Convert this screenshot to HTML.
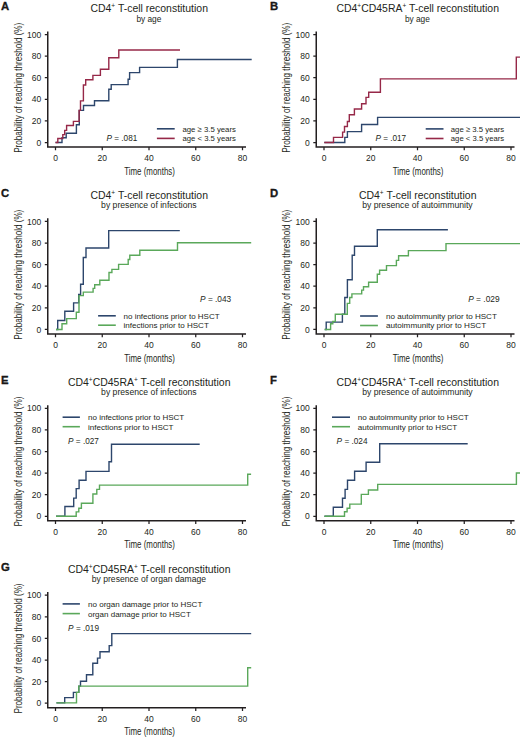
<!DOCTYPE html>
<html><head><meta charset="utf-8"><title>T-cell reconstitution</title>
<style>
html,body{margin:0;padding:0;background:#fff;}
body{width:520px;height:738px;overflow:hidden;}
svg{display:block;font-family:"Liberation Sans", sans-serif;}
svg text{fill:#231f20;}
</style></head><body>
<svg width="520" height="738" viewBox="0 0 520 738">
<rect width="520" height="738" fill="#fff"/>
<text x="1" y="9.8" font-size="11.3" font-weight="bold" fill="#000" stroke="#000" stroke-width="0.3">A</text>
<text x="149.2" y="11.9" font-size="10.4" text-anchor="middle" textLength="117.5" lengthAdjust="spacingAndGlyphs">CD4<tspan font-size="6.5" dy="-3.6">+</tspan><tspan dy="3.6"> T-cell reconstitution</tspan></text>
<text x="148.9" y="21.5" font-size="8.5" text-anchor="middle" textLength="25" lengthAdjust="spacingAndGlyphs">by age</text>
<text transform="translate(21.6 87.8) rotate(-90)" x="0" y="0" font-size="10.5" text-anchor="middle" textLength="130" lengthAdjust="spacingAndGlyphs">Probability of reaching threshold (%)</text>
<path d="M47.75 31.4V147H246" fill="none" stroke="#231f20" stroke-width="1.5"/>
<path d="M44.8 142.5H47.75M44.8 120.9H47.75M44.8 99.3H47.75M44.8 77.7H47.75M44.8 56.1H47.75M44.8 34.5H47.75M55.5 147V150.3M102.25 147V150.3M149 147V150.3M195.75 147V150.3M242.5 147V150.3" fill="none" stroke="#231f20" stroke-width="1.25"/>
<text x="41.3" y="145.6" font-size="8.5" text-anchor="end">0</text>
<text x="41.3" y="124" font-size="8.5" text-anchor="end">20</text>
<text x="41.3" y="102.4" font-size="8.5" text-anchor="end">40</text>
<text x="41.3" y="80.8" font-size="8.5" text-anchor="end">60</text>
<text x="41.3" y="59.2" font-size="8.5" text-anchor="end">80</text>
<text x="41.3" y="37.6" font-size="8.5" text-anchor="end">100</text>
<text x="55.5" y="160.8" font-size="8.5" text-anchor="middle">0</text>
<text x="102.25" y="160.8" font-size="8.5" text-anchor="middle">20</text>
<text x="149" y="160.8" font-size="8.5" text-anchor="middle">40</text>
<text x="195.75" y="160.8" font-size="8.5" text-anchor="middle">60</text>
<text x="242.5" y="160.8" font-size="8.5" text-anchor="middle">80</text>
<text x="149.55" y="174.6" font-size="10.8" text-anchor="middle" textLength="50.7" lengthAdjust="spacingAndGlyphs">Time (months)</text>
<text x="270.1" y="9.8" font-size="11.3" font-weight="bold" fill="#000" stroke="#000" stroke-width="0.3">B</text>
<text x="417.7" y="11.9" font-size="10.4" text-anchor="middle" textLength="162.5" lengthAdjust="spacingAndGlyphs">CD4<tspan font-size="6.5" dy="-3.6">+</tspan><tspan dy="3.6">CD45RA</tspan><tspan font-size="6.5" dy="-3.6">+</tspan><tspan dy="3.6"> T-cell reconstitution</tspan></text>
<text x="417.4" y="21.5" font-size="8.5" text-anchor="middle" textLength="25" lengthAdjust="spacingAndGlyphs">by age</text>
<text transform="translate(290.1 87.8) rotate(-90)" x="0" y="0" font-size="10.5" text-anchor="middle" textLength="130" lengthAdjust="spacingAndGlyphs">Probability of reaching threshold (%)</text>
<path d="M316.25 31.4V147H514.5" fill="none" stroke="#231f20" stroke-width="1.5"/>
<path d="M313.3 142.5H316.25M313.3 120.9H316.25M313.3 99.3H316.25M313.3 77.7H316.25M313.3 56.1H316.25M313.3 34.5H316.25M324 147V150.3M370.75 147V150.3M417.5 147V150.3M464.25 147V150.3M511 147V150.3" fill="none" stroke="#231f20" stroke-width="1.25"/>
<text x="309.8" y="145.6" font-size="8.5" text-anchor="end">0</text>
<text x="309.8" y="124" font-size="8.5" text-anchor="end">20</text>
<text x="309.8" y="102.4" font-size="8.5" text-anchor="end">40</text>
<text x="309.8" y="80.8" font-size="8.5" text-anchor="end">60</text>
<text x="309.8" y="59.2" font-size="8.5" text-anchor="end">80</text>
<text x="309.8" y="37.6" font-size="8.5" text-anchor="end">100</text>
<text x="324" y="160.8" font-size="8.5" text-anchor="middle">0</text>
<text x="370.75" y="160.8" font-size="8.5" text-anchor="middle">20</text>
<text x="417.5" y="160.8" font-size="8.5" text-anchor="middle">40</text>
<text x="464.25" y="160.8" font-size="8.5" text-anchor="middle">60</text>
<text x="511" y="160.8" font-size="8.5" text-anchor="middle">80</text>
<text x="418.05" y="174.6" font-size="10.8" text-anchor="middle" textLength="50.7" lengthAdjust="spacingAndGlyphs">Time (months)</text>
<text x="1" y="196.7" font-size="11.3" font-weight="bold" fill="#000" stroke="#000" stroke-width="0.3">C</text>
<text x="149.2" y="198.8" font-size="10.4" text-anchor="middle" textLength="117.5" lengthAdjust="spacingAndGlyphs">CD4<tspan font-size="6.5" dy="-3.6">+</tspan><tspan dy="3.6"> T-cell reconstitution</tspan></text>
<text x="148.9" y="208.4" font-size="8.5" text-anchor="middle" textLength="95.6" lengthAdjust="spacingAndGlyphs">by presence of infections</text>
<text transform="translate(21.6 274.7) rotate(-90)" x="0" y="0" font-size="10.5" text-anchor="middle" textLength="130" lengthAdjust="spacingAndGlyphs">Probability of reaching threshold (%)</text>
<path d="M47.75 218.3V333.9H246" fill="none" stroke="#231f20" stroke-width="1.5"/>
<path d="M44.8 329.4H47.75M44.8 307.8H47.75M44.8 286.2H47.75M44.8 264.6H47.75M44.8 243H47.75M44.8 221.4H47.75M55.5 333.9V337.2M102.25 333.9V337.2M149 333.9V337.2M195.75 333.9V337.2M242.5 333.9V337.2" fill="none" stroke="#231f20" stroke-width="1.25"/>
<text x="41.3" y="332.5" font-size="8.5" text-anchor="end">0</text>
<text x="41.3" y="310.9" font-size="8.5" text-anchor="end">20</text>
<text x="41.3" y="289.3" font-size="8.5" text-anchor="end">40</text>
<text x="41.3" y="267.7" font-size="8.5" text-anchor="end">60</text>
<text x="41.3" y="246.1" font-size="8.5" text-anchor="end">80</text>
<text x="41.3" y="224.5" font-size="8.5" text-anchor="end">100</text>
<text x="55.5" y="347.7" font-size="8.5" text-anchor="middle">0</text>
<text x="102.25" y="347.7" font-size="8.5" text-anchor="middle">20</text>
<text x="149" y="347.7" font-size="8.5" text-anchor="middle">40</text>
<text x="195.75" y="347.7" font-size="8.5" text-anchor="middle">60</text>
<text x="242.5" y="347.7" font-size="8.5" text-anchor="middle">80</text>
<text x="149.55" y="361.5" font-size="10.8" text-anchor="middle" textLength="50.7" lengthAdjust="spacingAndGlyphs">Time (months)</text>
<text x="270.1" y="196.7" font-size="11.3" font-weight="bold" fill="#000" stroke="#000" stroke-width="0.3">D</text>
<text x="417.7" y="198.8" font-size="10.4" text-anchor="middle" textLength="117.5" lengthAdjust="spacingAndGlyphs">CD4<tspan font-size="6.5" dy="-3.6">+</tspan><tspan dy="3.6"> T-cell reconstitution</tspan></text>
<text x="417.4" y="208.4" font-size="8.5" text-anchor="middle" textLength="110.5" lengthAdjust="spacingAndGlyphs">by presence of autoimmunity</text>
<text transform="translate(290.1 274.7) rotate(-90)" x="0" y="0" font-size="10.5" text-anchor="middle" textLength="130" lengthAdjust="spacingAndGlyphs">Probability of reaching threshold (%)</text>
<path d="M316.25 218.3V333.9H514.5" fill="none" stroke="#231f20" stroke-width="1.5"/>
<path d="M313.3 329.4H316.25M313.3 307.8H316.25M313.3 286.2H316.25M313.3 264.6H316.25M313.3 243H316.25M313.3 221.4H316.25M324 333.9V337.2M370.75 333.9V337.2M417.5 333.9V337.2M464.25 333.9V337.2M511 333.9V337.2" fill="none" stroke="#231f20" stroke-width="1.25"/>
<text x="309.8" y="332.5" font-size="8.5" text-anchor="end">0</text>
<text x="309.8" y="310.9" font-size="8.5" text-anchor="end">20</text>
<text x="309.8" y="289.3" font-size="8.5" text-anchor="end">40</text>
<text x="309.8" y="267.7" font-size="8.5" text-anchor="end">60</text>
<text x="309.8" y="246.1" font-size="8.5" text-anchor="end">80</text>
<text x="309.8" y="224.5" font-size="8.5" text-anchor="end">100</text>
<text x="324" y="347.7" font-size="8.5" text-anchor="middle">0</text>
<text x="370.75" y="347.7" font-size="8.5" text-anchor="middle">20</text>
<text x="417.5" y="347.7" font-size="8.5" text-anchor="middle">40</text>
<text x="464.25" y="347.7" font-size="8.5" text-anchor="middle">60</text>
<text x="511" y="347.7" font-size="8.5" text-anchor="middle">80</text>
<text x="418.05" y="361.5" font-size="10.8" text-anchor="middle" textLength="50.7" lengthAdjust="spacingAndGlyphs">Time (months)</text>
<text x="1" y="383.6" font-size="11.3" font-weight="bold" fill="#000" stroke="#000" stroke-width="0.3">E</text>
<text x="149.2" y="385.7" font-size="10.4" text-anchor="middle" textLength="162.5" lengthAdjust="spacingAndGlyphs">CD4<tspan font-size="6.5" dy="-3.6">+</tspan><tspan dy="3.6">CD45RA</tspan><tspan font-size="6.5" dy="-3.6">+</tspan><tspan dy="3.6"> T-cell reconstitution</tspan></text>
<text x="148.9" y="395.3" font-size="8.5" text-anchor="middle" textLength="95.6" lengthAdjust="spacingAndGlyphs">by presence of infections</text>
<text transform="translate(21.6 461.6) rotate(-90)" x="0" y="0" font-size="10.5" text-anchor="middle" textLength="130" lengthAdjust="spacingAndGlyphs">Probability of reaching threshold (%)</text>
<path d="M47.75 405.2V520.8H246" fill="none" stroke="#231f20" stroke-width="1.5"/>
<path d="M44.8 516.3H47.75M44.8 494.7H47.75M44.8 473.1H47.75M44.8 451.5H47.75M44.8 429.9H47.75M44.8 408.3H47.75M55.5 520.8V524.1M102.25 520.8V524.1M149 520.8V524.1M195.75 520.8V524.1M242.5 520.8V524.1" fill="none" stroke="#231f20" stroke-width="1.25"/>
<text x="41.3" y="519.4" font-size="8.5" text-anchor="end">0</text>
<text x="41.3" y="497.8" font-size="8.5" text-anchor="end">20</text>
<text x="41.3" y="476.2" font-size="8.5" text-anchor="end">40</text>
<text x="41.3" y="454.6" font-size="8.5" text-anchor="end">60</text>
<text x="41.3" y="433" font-size="8.5" text-anchor="end">80</text>
<text x="41.3" y="411.4" font-size="8.5" text-anchor="end">100</text>
<text x="55.5" y="534.6" font-size="8.5" text-anchor="middle">0</text>
<text x="102.25" y="534.6" font-size="8.5" text-anchor="middle">20</text>
<text x="149" y="534.6" font-size="8.5" text-anchor="middle">40</text>
<text x="195.75" y="534.6" font-size="8.5" text-anchor="middle">60</text>
<text x="242.5" y="534.6" font-size="8.5" text-anchor="middle">80</text>
<text x="149.55" y="548.4" font-size="10.8" text-anchor="middle" textLength="50.7" lengthAdjust="spacingAndGlyphs">Time (months)</text>
<text x="270.1" y="383.6" font-size="11.3" font-weight="bold" fill="#000" stroke="#000" stroke-width="0.3">F</text>
<text x="417.7" y="385.7" font-size="10.4" text-anchor="middle" textLength="162.5" lengthAdjust="spacingAndGlyphs">CD4<tspan font-size="6.5" dy="-3.6">+</tspan><tspan dy="3.6">CD45RA</tspan><tspan font-size="6.5" dy="-3.6">+</tspan><tspan dy="3.6"> T-cell reconstitution</tspan></text>
<text x="417.4" y="395.3" font-size="8.5" text-anchor="middle" textLength="110.5" lengthAdjust="spacingAndGlyphs">by presence of autoimmunity</text>
<text transform="translate(290.1 461.6) rotate(-90)" x="0" y="0" font-size="10.5" text-anchor="middle" textLength="130" lengthAdjust="spacingAndGlyphs">Probability of reaching threshold (%)</text>
<path d="M316.25 405.2V520.8H514.5" fill="none" stroke="#231f20" stroke-width="1.5"/>
<path d="M313.3 516.3H316.25M313.3 494.7H316.25M313.3 473.1H316.25M313.3 451.5H316.25M313.3 429.9H316.25M313.3 408.3H316.25M324 520.8V524.1M370.75 520.8V524.1M417.5 520.8V524.1M464.25 520.8V524.1M511 520.8V524.1" fill="none" stroke="#231f20" stroke-width="1.25"/>
<text x="309.8" y="519.4" font-size="8.5" text-anchor="end">0</text>
<text x="309.8" y="497.8" font-size="8.5" text-anchor="end">20</text>
<text x="309.8" y="476.2" font-size="8.5" text-anchor="end">40</text>
<text x="309.8" y="454.6" font-size="8.5" text-anchor="end">60</text>
<text x="309.8" y="433" font-size="8.5" text-anchor="end">80</text>
<text x="309.8" y="411.4" font-size="8.5" text-anchor="end">100</text>
<text x="324" y="534.6" font-size="8.5" text-anchor="middle">0</text>
<text x="370.75" y="534.6" font-size="8.5" text-anchor="middle">20</text>
<text x="417.5" y="534.6" font-size="8.5" text-anchor="middle">40</text>
<text x="464.25" y="534.6" font-size="8.5" text-anchor="middle">60</text>
<text x="511" y="534.6" font-size="8.5" text-anchor="middle">80</text>
<text x="418.05" y="548.4" font-size="10.8" text-anchor="middle" textLength="50.7" lengthAdjust="spacingAndGlyphs">Time (months)</text>
<text x="1" y="570.5" font-size="11.3" font-weight="bold" fill="#000" stroke="#000" stroke-width="0.3">G</text>
<text x="149.2" y="572.6" font-size="10.4" text-anchor="middle" textLength="162.5" lengthAdjust="spacingAndGlyphs">CD4<tspan font-size="6.5" dy="-3.6">+</tspan><tspan dy="3.6">CD45RA</tspan><tspan font-size="6.5" dy="-3.6">+</tspan><tspan dy="3.6"> T-cell reconstitution</tspan></text>
<text x="148.9" y="582.2" font-size="8.5" text-anchor="middle" textLength="114.3" lengthAdjust="spacingAndGlyphs">by presence of organ damage</text>
<text transform="translate(21.6 648.5) rotate(-90)" x="0" y="0" font-size="10.5" text-anchor="middle" textLength="130" lengthAdjust="spacingAndGlyphs">Probability of reaching threshold (%)</text>
<path d="M47.75 592.1V707.7H246" fill="none" stroke="#231f20" stroke-width="1.5"/>
<path d="M44.8 703.2H47.75M44.8 681.6H47.75M44.8 660H47.75M44.8 638.4H47.75M44.8 616.8H47.75M44.8 595.2H47.75M55.5 707.7V711M102.25 707.7V711M149 707.7V711M195.75 707.7V711M242.5 707.7V711" fill="none" stroke="#231f20" stroke-width="1.25"/>
<text x="41.3" y="706.3" font-size="8.5" text-anchor="end">0</text>
<text x="41.3" y="684.7" font-size="8.5" text-anchor="end">20</text>
<text x="41.3" y="663.1" font-size="8.5" text-anchor="end">40</text>
<text x="41.3" y="641.5" font-size="8.5" text-anchor="end">60</text>
<text x="41.3" y="619.9" font-size="8.5" text-anchor="end">80</text>
<text x="41.3" y="598.3" font-size="8.5" text-anchor="end">100</text>
<text x="55.5" y="721.5" font-size="8.5" text-anchor="middle">0</text>
<text x="102.25" y="721.5" font-size="8.5" text-anchor="middle">20</text>
<text x="149" y="721.5" font-size="8.5" text-anchor="middle">40</text>
<text x="195.75" y="721.5" font-size="8.5" text-anchor="middle">60</text>
<text x="242.5" y="721.5" font-size="8.5" text-anchor="middle">80</text>
<text x="149.55" y="735.3" font-size="10.8" text-anchor="middle" textLength="50.7" lengthAdjust="spacingAndGlyphs">Time (months)</text>
<path d="M55.5 142.5H62V137.7H66.2V133.3H76.4V124.7H79.3V110.4H83.5V105.5H94.5V100.7H108.8V89.2H111.2V84.6H128.1V79.2H129.6V72.6H139.6V67.4H177.4V59.5H251.7" fill="none" stroke="#2d466c" stroke-width="1.4" stroke-linejoin="miter"/>
<path d="M55.5 142.5H57.8V138.5H62.8V134.6H64.7V130.4H66.6V125.5H73.4V121.4H79.1V110.4H80.5V100.9H83.4V85H85.7V79.8H92.9V75.4H100.4V69.2H108.8V57.7H118.8V50H180" fill="none" stroke="#962848" stroke-width="1.4" stroke-linejoin="miter"/>
<path d="M324.3 142.5H344.8V137.4H347.4V131.6H361.6V124.5H377.6V117.4H520" fill="none" stroke="#2d466c" stroke-width="1.4" stroke-linejoin="miter"/>
<path d="M324.3 142.5H333.5V137.4H342.6V132.1H344.5V126.5H347.4V121.5H349.3V114.8H354.4V109H361.6V103.75H366V97.4H368.7V92.2H380.4V78.9H516.3V57.1H520" fill="none" stroke="#962848" stroke-width="1.4" stroke-linejoin="miter"/>
<path d="M56 329.5H57.7V320.5H64.8V311.2H73.6V302.9H78.7V294.5H80.6V284.3H83.3V257.5H86V248H108.7V230.6H179.8" fill="none" stroke="#2d466c" stroke-width="1.4" stroke-linejoin="miter"/>
<path d="M56 329.5H62V323.8H66.7V318.6H76.3V312.3H79V295.6H83.3V292.1H93.1V288.4H94.7V284.7H99.8V280.2H109V272.5H111.9V269.4H118.6V264.4H128.2V259.5H129.8V255.2H139.8V250.2H177.5V242.8H251.2" fill="none" stroke="#5aa85a" stroke-width="1.4" stroke-linejoin="miter"/>
<path d="M324.7 329.5H326.2V322.1H342.4V314.3H344.8V297.5H347.4V279.7H352.2V255.2H354.5V246.3H377.3V229.8H447.9" fill="none" stroke="#2d466c" stroke-width="1.4" stroke-linejoin="miter"/>
<path d="M324.7 329.5H330.6V323.8H332.8V321.4H335.3V314.2H347.3V303.4H349.7V297.5H351.9V293.9H361.7V290.1H363.5V286.7H368.6V282.3H377.3V274.2H379.6V270.2H386.5V265.6H396.4V260.4H398.6V255.8H408.4V250.6H446V243.6H520" fill="none" stroke="#5aa85a" stroke-width="1.4" stroke-linejoin="miter"/>
<path d="M56 516.3H64.9V506.5H73.7V498.1H76.2V488.6H79.1V480.2H86V471.4H109V461.7H111.5V444.3H199.7" fill="none" stroke="#2d466c" stroke-width="1.4" stroke-linejoin="miter"/>
<path d="M56 516.3H76.2V511.9H78.8V508.2H81.4V503.2H92.9V494H96.8V489.4H99.5V485.1H247.7V474.3H251.1" fill="none" stroke="#5aa85a" stroke-width="1.4" stroke-linejoin="miter"/>
<path d="M324.4 516.3H333.3V507.3H342.5V498.3H345.1V489.4H347.5V480.2H354.6V471.3H366.1V462.3H379.7V443.8H467.7" fill="none" stroke="#2d466c" stroke-width="1.4" stroke-linejoin="miter"/>
<path d="M324.4 516.3H344.5V511.7H347.1V508.2H349.8V504.1H361.3V494.4H368.4V490H377.7V484.4H516.4V473H520" fill="none" stroke="#5aa85a" stroke-width="1.4" stroke-linejoin="miter"/>
<path d="M56.4 702.9H64.7V697.6H73.4V692.4H78.8V686.1H80.5V681.2H86.5V674.8H92.8V663.3H97.5V658.1H100V651.7H109.2V645.6H111.8V633.6H251.2" fill="none" stroke="#2d466c" stroke-width="1.4" stroke-linejoin="miter"/>
<path d="M56.4 702.9H76.5V692.4H78.8V686.1H247.7V667.7H251.2" fill="none" stroke="#5aa85a" stroke-width="1.4" stroke-linejoin="miter"/>
<path d="M156.9 128.8H174.7" stroke="#2d466c" stroke-width="1.6"/>
<path d="M156.9 138.4H174.7" stroke="#962848" stroke-width="1.6"/>
<text x="182.5" y="131.7" font-size="8" textLength="53.4" lengthAdjust="spacingAndGlyphs">age ≥ 3.5 years</text>
<text x="182.5" y="141.3" font-size="8" textLength="53.4" lengthAdjust="spacingAndGlyphs">age &lt; 3.5 years</text>
<path d="M425.7 128.9H443.5" stroke="#2d466c" stroke-width="1.6"/>
<path d="M425.7 138.5H443.5" stroke="#962848" stroke-width="1.6"/>
<text x="450.8" y="131.8" font-size="8" textLength="53.4" lengthAdjust="spacingAndGlyphs">age ≥ 3.5 years</text>
<text x="450.8" y="141.4" font-size="8" textLength="53.4" lengthAdjust="spacingAndGlyphs">age &lt; 3.5 years</text>
<path d="M98.1 315.8H115.8" stroke="#2d466c" stroke-width="1.6"/>
<path d="M98.1 325.2H115.8" stroke="#5aa85a" stroke-width="1.6"/>
<text x="123.5" y="318.7" font-size="8" textLength="96.1" lengthAdjust="spacingAndGlyphs">no infections prior to HSCT</text>
<text x="123.5" y="328.1" font-size="8" textLength="85.3" lengthAdjust="spacingAndGlyphs">infections prior to HSCT</text>
<path d="M360.1 316H377.9" stroke="#2d466c" stroke-width="1.6"/>
<path d="M360.1 325.5H377.9" stroke="#5aa85a" stroke-width="1.6"/>
<text x="386" y="318.9" font-size="8" textLength="110.9" lengthAdjust="spacingAndGlyphs">no autoimmunity prior to HSCT</text>
<text x="386" y="328.4" font-size="8" textLength="100.2" lengthAdjust="spacingAndGlyphs">autoimmunity prior to HSCT</text>
<path d="M62.6 417.2H79.9" stroke="#2d466c" stroke-width="1.6"/>
<path d="M62.6 426.7H79.9" stroke="#5aa85a" stroke-width="1.6"/>
<text x="88" y="420.1" font-size="8" textLength="96.2" lengthAdjust="spacingAndGlyphs">no infections prior to HSCT</text>
<text x="88" y="429.6" font-size="8" textLength="85.5" lengthAdjust="spacingAndGlyphs">infections prior to HSCT</text>
<path d="M332 417.2H350" stroke="#2d466c" stroke-width="1.6"/>
<path d="M332 426.7H350" stroke="#5aa85a" stroke-width="1.6"/>
<text x="357.7" y="420.1" font-size="8" textLength="111" lengthAdjust="spacingAndGlyphs">no autoimmunity prior to HSCT</text>
<text x="357.7" y="429.6" font-size="8" textLength="99.6" lengthAdjust="spacingAndGlyphs">autoimmunity prior to HSCT</text>
<path d="M62.6 603.9H79.9" stroke="#2d466c" stroke-width="1.6"/>
<path d="M62.6 613.6H79.9" stroke="#5aa85a" stroke-width="1.6"/>
<text x="88" y="606.8" font-size="8" textLength="114.3" lengthAdjust="spacingAndGlyphs">no organ damage prior to HSCT</text>
<text x="88" y="616.5" font-size="8" textLength="102.8" lengthAdjust="spacingAndGlyphs">organ damage prior to HSCT</text>
<text x="106.5" y="140.7" font-size="8.2" textLength="30.8" lengthAdjust="spacingAndGlyphs"><tspan font-style="italic">P</tspan> = .081</text>
<text x="375.4" y="140.8" font-size="8.2" textLength="30.8" lengthAdjust="spacingAndGlyphs"><tspan font-style="italic">P</tspan> = .017</text>
<text x="200.1" y="302" font-size="8.2" textLength="31.1" lengthAdjust="spacingAndGlyphs"><tspan font-style="italic">P</tspan> = .043</text>
<text x="468.2" y="301.7" font-size="8.2" textLength="31.4" lengthAdjust="spacingAndGlyphs"><tspan font-style="italic">P</tspan> = .029</text>
<text x="68.1" y="444" font-size="8.2" textLength="30.8" lengthAdjust="spacingAndGlyphs"><tspan font-style="italic">P</tspan> = .027</text>
<text x="336.6" y="444" font-size="8.2" textLength="30.9" lengthAdjust="spacingAndGlyphs"><tspan font-style="italic">P</tspan> = .024</text>
<text x="68.1" y="630.6" font-size="8.2" textLength="30.9" lengthAdjust="spacingAndGlyphs"><tspan font-style="italic">P</tspan> = .019</text>
</svg>
</body></html>
